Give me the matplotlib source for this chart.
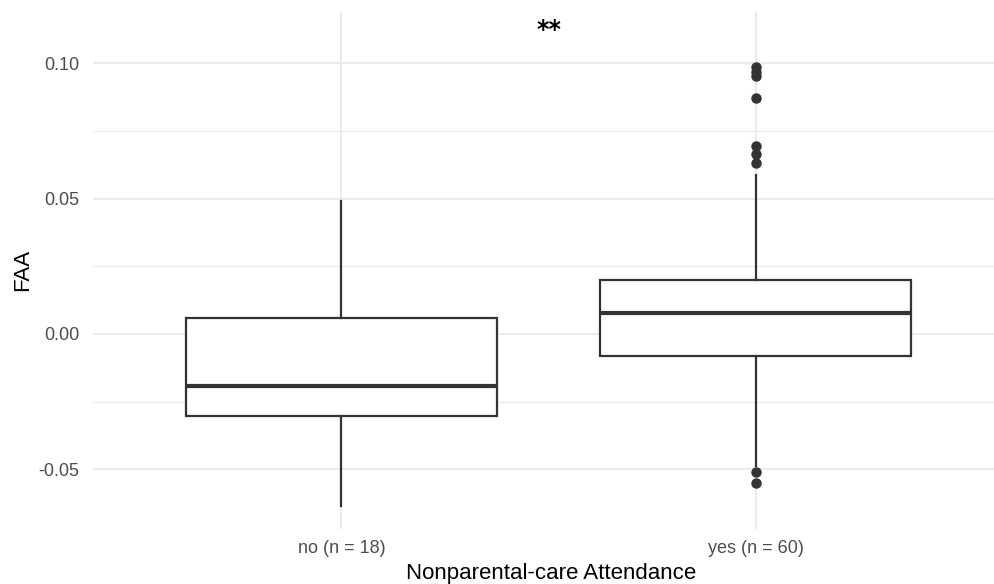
import matplotlib
matplotlib.use("Agg")
import matplotlib.pyplot as plt
from matplotlib.ticker import FixedLocator

plt.rcParams['font.family'] = ['Liberation Sans', 'DejaVu Sans']

# ---- data ----
categories = ["no (n = 18)", "yes (n = 60)"]
whisker_low = [-0.0636, -0.0488]
q1 = [-0.0304, -0.0082]
median = [-0.0193, 0.0076]
q3 = [0.0060, 0.0198]
whisker_high = [0.0493, 0.0588]
outliers = [
    [],
    [0.0987, 0.0968, 0.0953, 0.0872, 0.0695, 0.0665, 0.0632, -0.0510, -0.0550],
]
annotation_text = "**"
annotation_y = 0.1125
y_major = [-0.05, 0.00, 0.05, 0.10]
y_major_labels = ["-0.05", "0.00", "0.05", "0.10"]
y_minor = [-0.025, 0.025, 0.075]
xlabel = "Nonparental-care Attendance"
ylabel = "FAA"

# ---- figure ----
W, H = 995, 584
fig = plt.figure(figsize=(W / 100, H / 100), dpi=100)
left_px, right_px, top_px, bottom_px = 93, 1004, 12, 529
ax = fig.add_axes([left_px / W, 1 - bottom_px / H,
                   (right_px - left_px) / W, (bottom_px - top_px) / H])

grey20 = "#333333"
stats = []
for i in range(len(categories)):
    stats.append(dict(med=median[i], q1=q1[i], q3=q3[i],
                      whislo=whisker_low[i], whishi=whisker_high[i],
                      fliers=outliers[i], label=categories[i]))

positions = list(range(1, len(categories) + 1))
ax.bxp(stats, positions=positions, widths=0.75, showcaps=False,
       patch_artist=True, zorder=3,
       boxprops=dict(facecolor="white", edgecolor=grey20, linewidth=1.6),
       whiskerprops=dict(color=grey20, linewidth=1.6),
       medianprops=dict(color=grey20, linewidth=3.0, solid_capstyle="butt"),
       flierprops=dict(marker="o", markerfacecolor=grey20, markeredgecolor=grey20,
                       markersize=6.5, linestyle="none"))

ax.text((positions[0] + positions[-1]) / 2, annotation_y, annotation_text,
        ha="center", va="center", fontsize=17, fontweight="bold",
        family=["DejaVu Sans"], color="black", zorder=4)

ax.set_xlim(0.4, len(categories) + 0.6)
ax.set_ylim(-0.0721, 0.119)

ax.set_xticks(positions)
ax.set_xticklabels(categories)
ax.yaxis.set_major_locator(FixedLocator(y_major))
ax.set_yticklabels(y_major_labels)
ax.yaxis.set_minor_locator(FixedLocator(y_minor))

ax.tick_params(axis="both", which="both", length=0, labelsize=13, colors="#4D4D4D")
ax.tick_params(axis="y", pad=10)
ax.tick_params(axis="x", pad=8)

ax.grid(True, which="major", color="#EBEBEB", linewidth=1.4, zorder=0)
ax.grid(True, which="minor", axis="y", color="#EBEBEB", linewidth=0.8, zorder=0)
ax.set_axisbelow(True)
for s in ax.spines.values():
    s.set_visible(False)

fig.text(551 / W, 1 - 573 / H, xlabel, ha="center", va="center", fontsize=16, color="black")
fig.text(23 / W, 1 - 270 / H, ylabel, ha="center", va="center", rotation=90,
         fontsize=16, color="black")

fig.savefig("out.png", dpi=100, facecolor="white")
